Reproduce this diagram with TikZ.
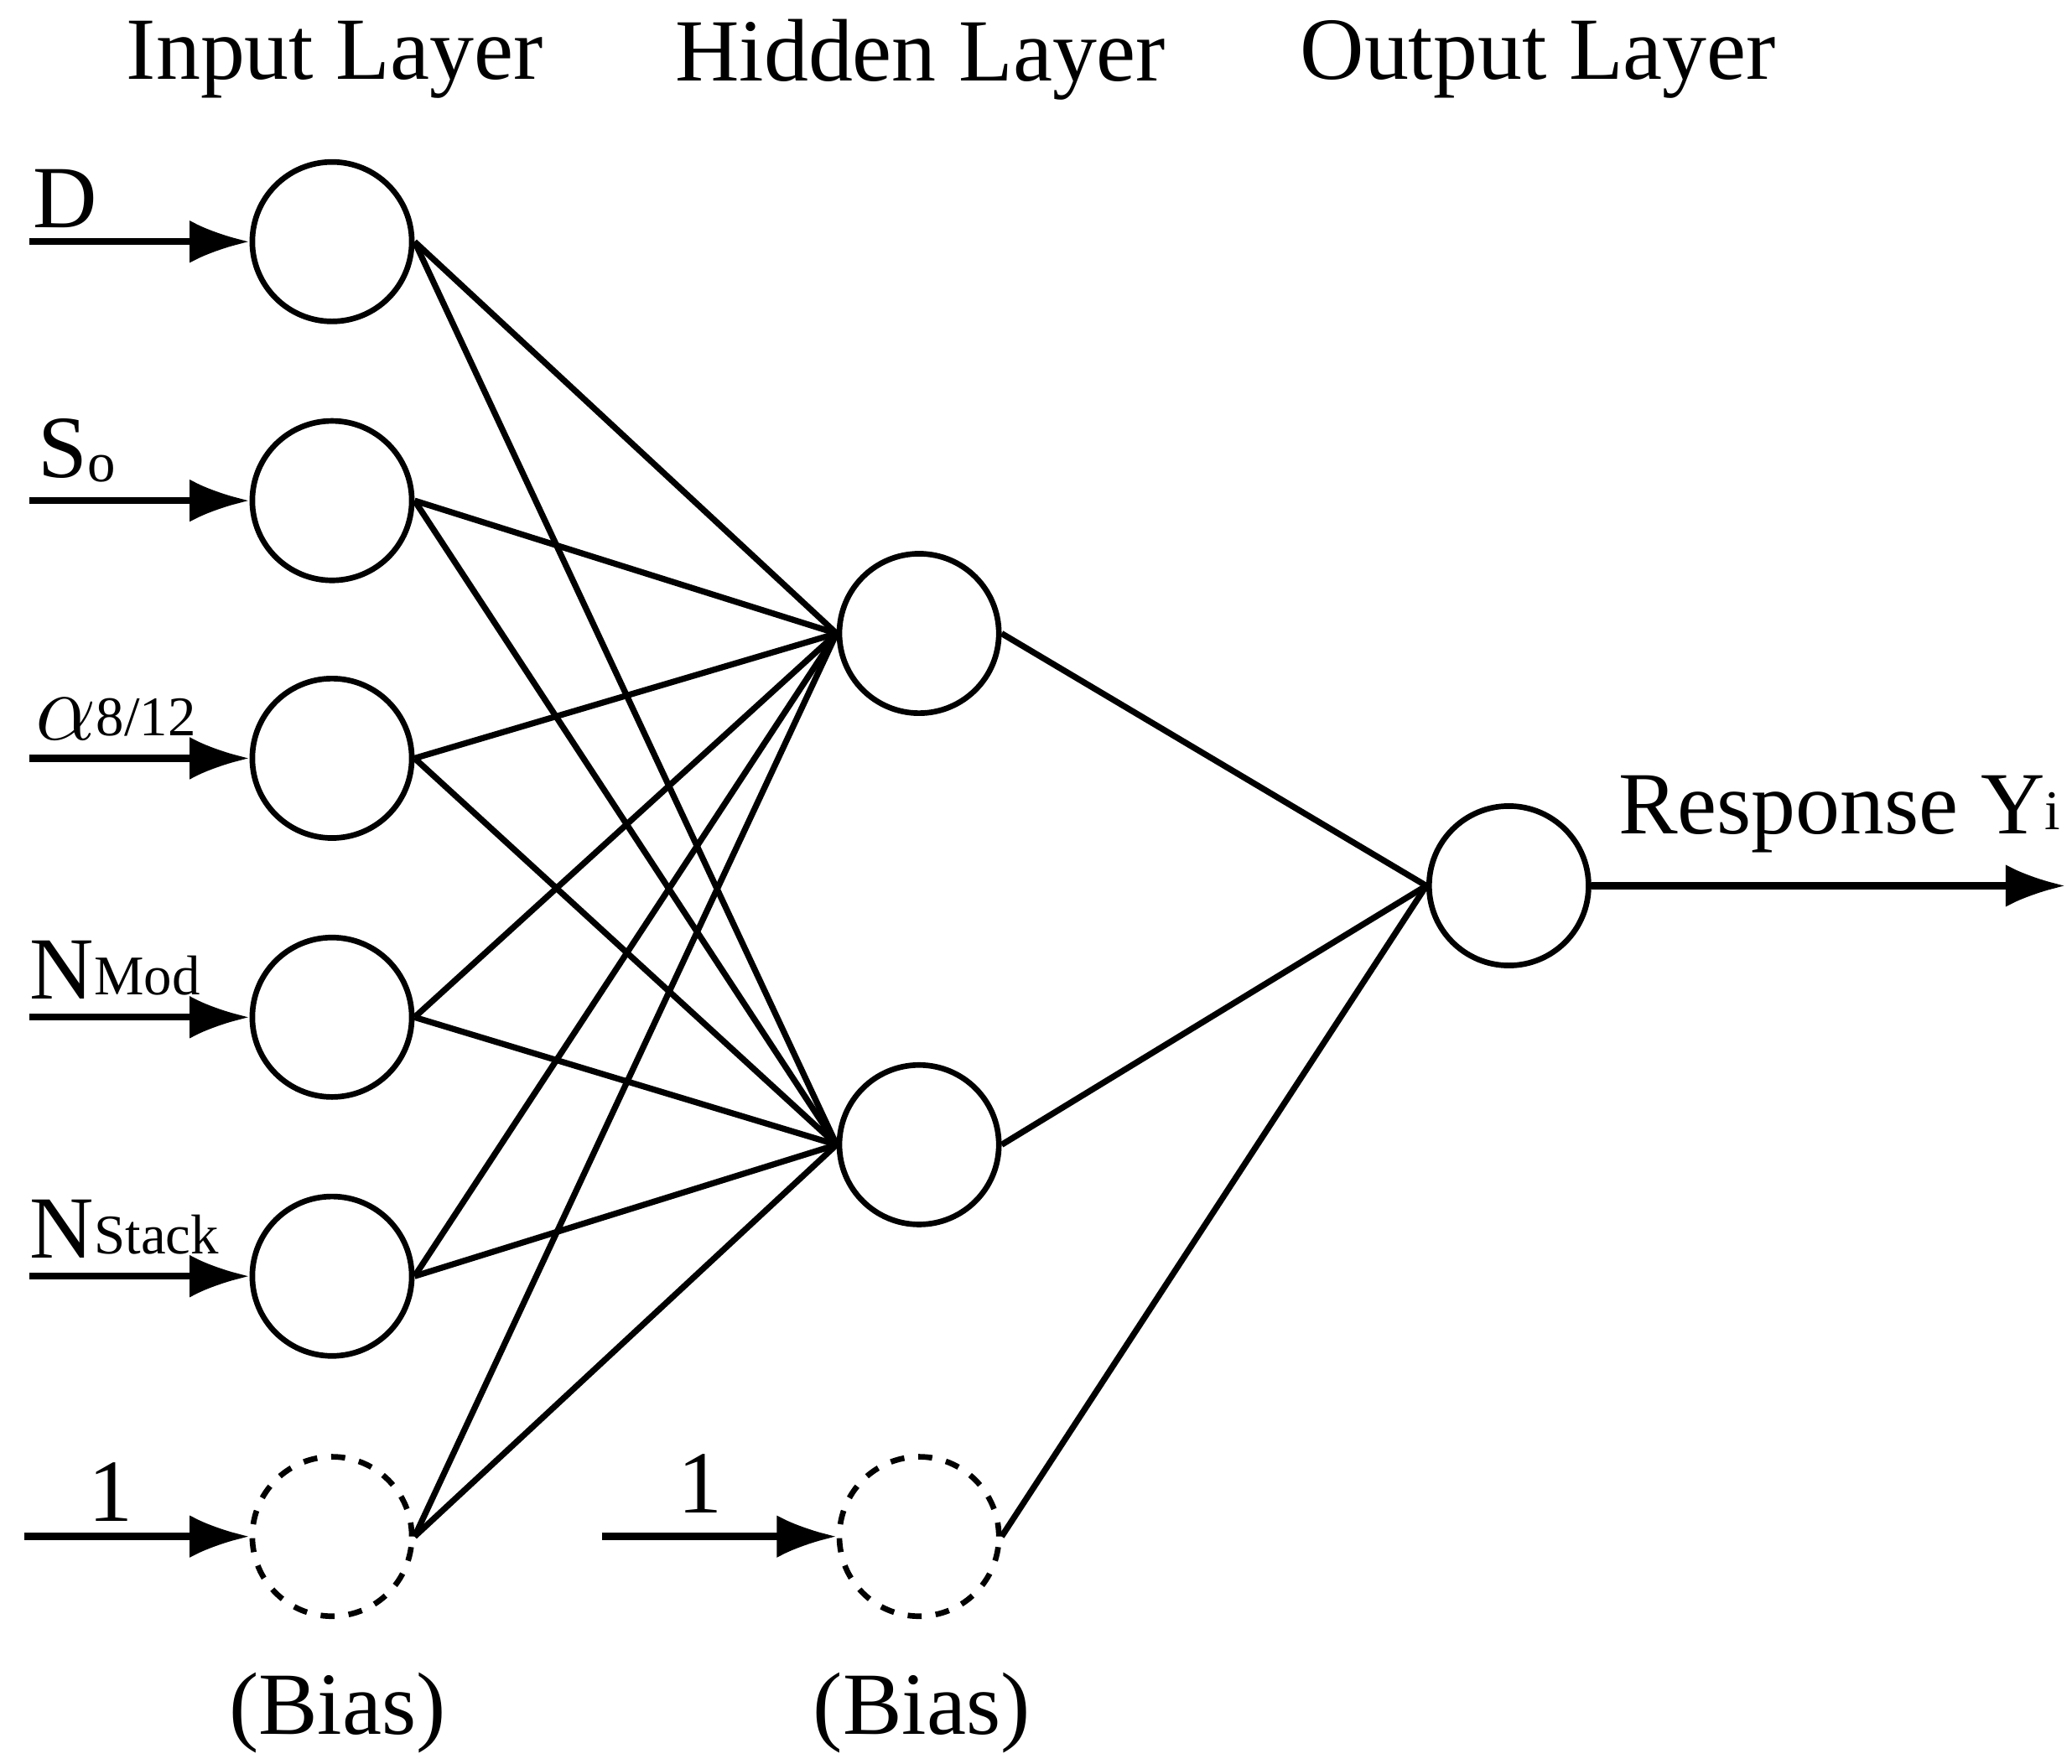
\documentclass[tikz,border=0pt]{standalone}
\usepackage{fontspec}
\setmainfont{Liberation Serif}
\usetikzlibrary{arrows.meta}
\begin{document}
\begin{tikzpicture}[x=0.01cm,y=-0.01cm,
 neuron/.style={circle,draw,line width=1.2pt,minimum size=1.2cm,inner sep=0pt},
 bias/.style={neuron,dashed},
 conn/.style={line width=1.3pt},
 arr/.style={line width=1.5pt,-{Latex[length=0.45cm,width=0.32cm]}},
 lab/.style={font=\fontsize{19}{23}\selectfont,anchor=south west,inner sep=0pt},
 ttl/.style={font=\fontsize{19}{23}\selectfont}]
\useasboundingbox (0,0) rectangle (1560,1328);
\node[ttl] (t1) at (252,45) {Input Layer};
\node[ttl] (t2) at (693,45) {Hidden Layer};
\node[ttl] (t3) at (1158,45) {Output Layer};
\foreach \n/\y in {i1/182,i2/377,i3/571,i4/766,i5/961}{
 \node[neuron] (\n) at (250,\y) {};
 \coordinate (s\n) at (22,\y);
 \draw[arr] (s\n) -- (\n.west);
}
\node[bias] (ib) at (250,1157) {};
\coordinate (sib) at (18,1157);
\draw[arr] (sib) -- (ib.west);
\node[neuron] (h1) at (692,477) {};
\node[neuron] (h2) at (692,862) {};
\node[bias] (hb) at (692,1157) {};
\coordinate (shb) at (453,1157);
\draw[arr] (shb) -- (hb.west);
\node[neuron] (o) at (1136,667) {};
\coordinate (oe) at (1555,667);
\draw[arr] (o.east) -- (oe);
% labels
\node[lab] (lD) at (24,172) {D};
\node[lab] (lS) at (28,364) {S\raisebox{-0.1ex}{\fontsize{12}{14}\selectfont o}};
\node[lab] (la) at (26,558) {{\fontsize{22}{24}\selectfont$\alpha$}\raisebox{0.1ex}{\fontsize{12}{14}\selectfont 8/12}};
\node[lab] (lN) at (22,753) {N\raisebox{0.1ex}{\fontsize{12}{14}\selectfont Mod}};
\node[lab] (lNs) at (22,948) {N\raisebox{0.1ex}{\fontsize{12}{14}\selectfont Stack}};
\node[lab] (l1) at (66,1146) {1};
\node[lab] (l2) at (510,1140) {1};
\node[lab,anchor=south east] (lr) at (1552,643) {Response Y\raisebox{0.1ex}{\fontsize{12}{14}\selectfont i}};
\node[ttl] (b1) at (254,1290) {(Bias)};
\node[ttl] (b2) at (694,1290) {(Bias)};
% connections
\foreach \n in {i1,i2,i3,i4,i5,ib}{
 \draw[conn] (\n.east) -- (h1.west);
 \draw[conn] (\n.east) -- (h2.west);
}
\draw[conn] (h1.east) -- (o.west);
\draw[conn] (h2.east) -- (o.west);
\draw[conn] (hb.east) -- (o.west);
\end{tikzpicture}
\end{document}
